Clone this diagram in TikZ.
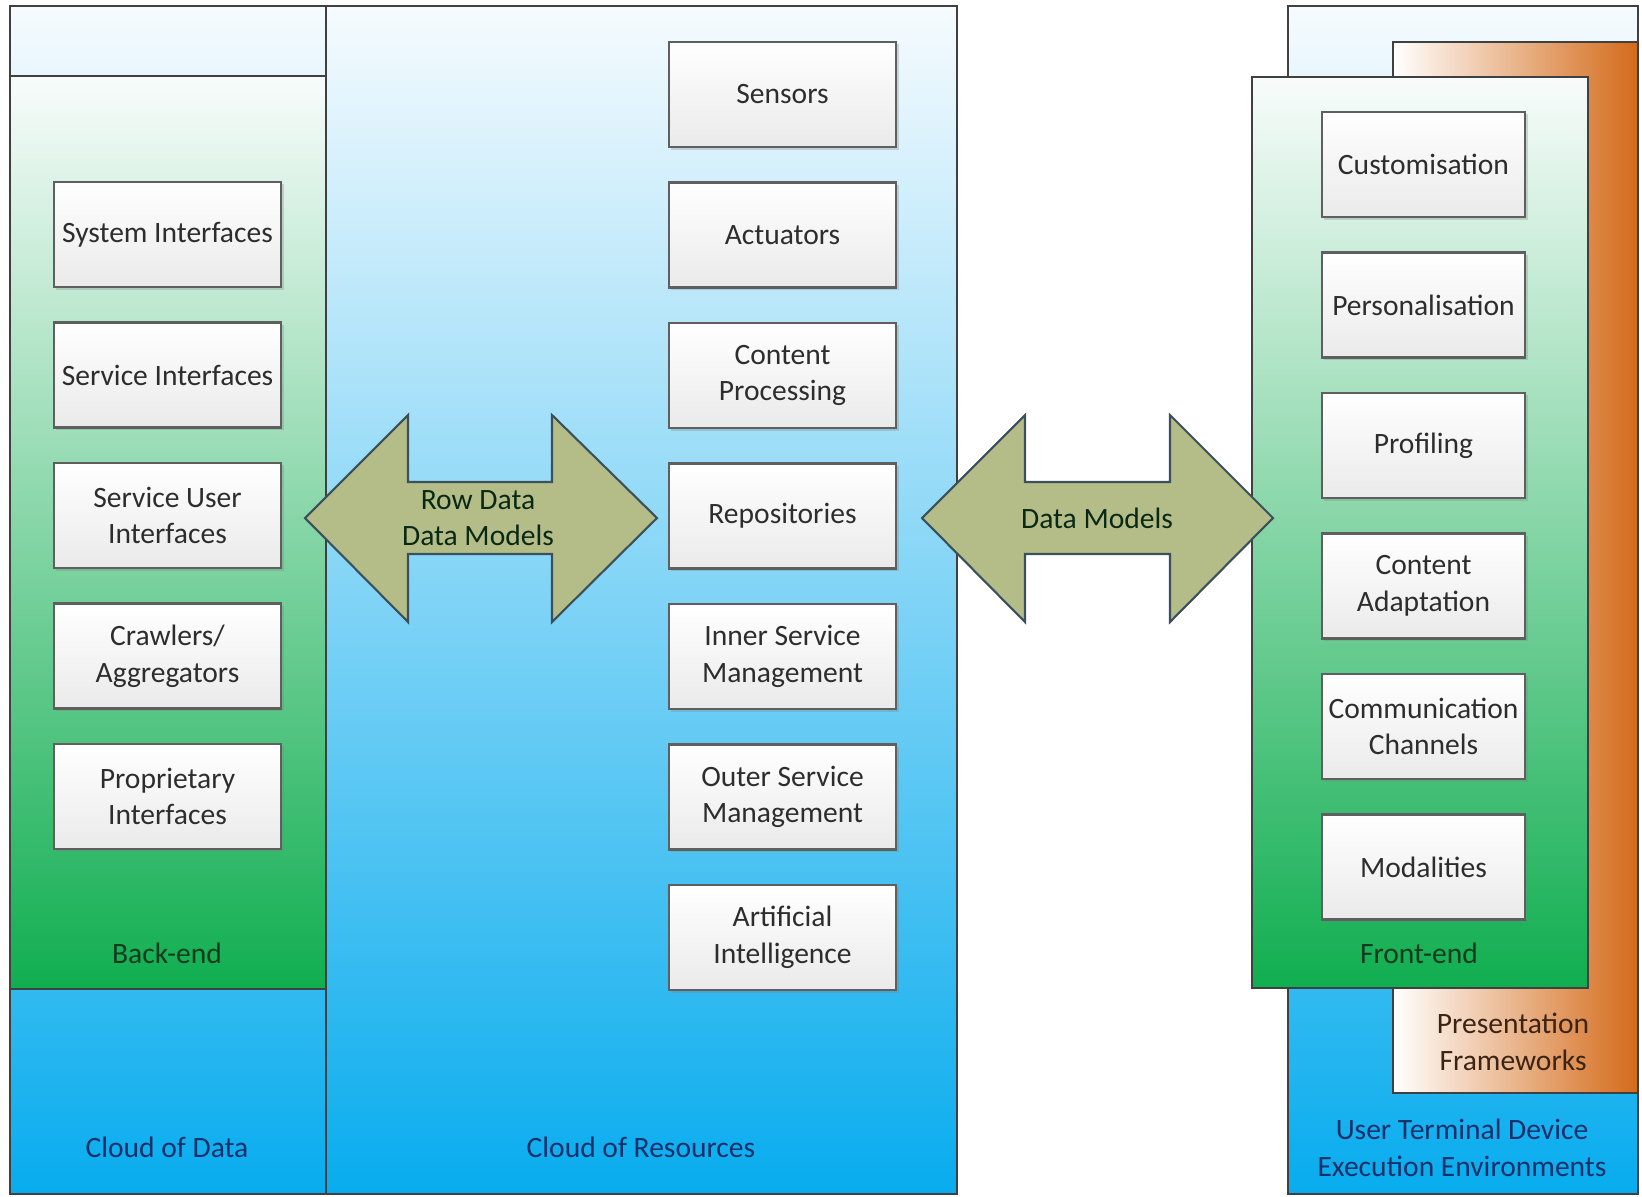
\documentclass[tikz,border=0pt]{standalone}
\usepackage{fontspec}
\setmainfont{Carlito}
\usetikzlibrary{shadows}
\definecolor{frame}{RGB}{64, 64, 64}
\definecolor{boxgray}{RGB}{234, 234, 234}
\definecolor{boxline}{RGB}{95, 95, 95}
\definecolor{textgray}{RGB}{45, 45, 45}
\definecolor{skyblue}{RGB}{8, 172, 238}
\definecolor{paleblue}{RGB}{246, 251, 254}
\definecolor{leaf}{RGB}{16, 174, 80}
\definecolor{paleleaf}{RGB}{248, 252, 251}
\definecolor{rust}{RGB}{212, 106, 26}
\definecolor{olive}{RGB}{180, 189, 136}
\definecolor{slate}{RGB}{60, 80, 92}
\definecolor{darkleaf}{RGB}{14, 59, 30}
\definecolor{navy}{RGB}{20, 48, 107}
\definecolor{umber}{RGB}{59, 36, 20}

\begin{document}
\begin{tikzpicture}[x=0.01cm, y=-0.01cm, line width=0.6pt,
  font=\fontsize{8.4}{10.4}\selectfont,
  block/.style={draw=boxline, top color=white, bottom color=boxgray,
    text=textgray, align=center, inner xsep=0.5pt,
    minimum width=2.27cm, minimum height=1.05cm,
    drop shadow={opacity=0.3, shadow xshift=0.7pt, shadow yshift=-0.7pt}},
  thinblock/.style={block, minimum width=2.03cm},
  title/.style={align=center}]
  \useasboundingbox (0, 0) rectangle (1642, 1196);

  % back-end side
  \draw[draw=frame, top color=paleblue, bottom color=skyblue] (10, 6) rectangle (326, 1194);
  \draw[draw=frame, top color=paleleaf, bottom color=leaf] (10, 76) rectangle (326, 989);
  \node[title, text=darkleaf] (backend) at (167, 953) {Back-end};
  \node[title, text=navy] (clouddata) at (167, 1147) {Cloud of Data};

  % resources in the middle
  \draw[draw=frame, top color=paleblue, bottom color=skyblue] (326, 6) rectangle (957, 1194);
  \node[title, text=navy] (cloudres) at (641, 1147) {Cloud of Resources};

  % front-end side
  \draw[draw=frame, top color=paleblue, bottom color=skyblue] (1288, 6) rectangle (1638, 1194);
  \draw[draw=frame, left color=white, right color=rust] (1393, 42) rectangle (1638, 1093);
  \draw[draw=frame, top color=paleleaf, bottom color=leaf] (1252, 77) rectangle (1588, 988);
  \node[title, text=darkleaf] (frontend) at (1419, 953) {Front-end};
  \node[title, text=umber] (present) at (1513, 1042) {Presentation\\Frameworks};
  \node[title, text=navy] (terminal) at (1462, 1148) {User Terminal Device\\Execution Environments};

  \foreach \name/\txt [count=\i from 0] in {sysif/System Interfaces,
      servif/Service Interfaces, userif/{Service User\\Interfaces},
      crawl/{Crawlers/\\Aggregators}, propif/{Proprietary\\Interfaces}}
    \node[block] (\name) at (167.5, 234.5 + 140.5*\i) {\txt};

  \foreach \name/\txt [count=\i from 0] in {sensors/Sensors, actuators/Actuators,
      content/{Content\\Processing}, repos/Repositories,
      inner/{Inner Service\\Management}, outer/{Outer Service\\Management},
      ai/{Artificial\\Intelligence}}
    \node[block] (\name) at (782.5, 94.5 + 140.5*\i) {\txt};

  \foreach \name/\txt [count=\i from 0] in {custom/Customisation,
      personal/Personalisation, profiling/Profiling,
      adapt/{Content\\Adaptation}, channels/{Communication\\Channels},
      modal/Modalities}
    \node[thinblock] (\name) at (1423.5, 164.5 + 140.5*\i) {\txt};

  % the two exchange arrows
  \draw[draw=slate, fill=olive] (305, 518) -- (408, 415) -- (408, 482) -- (552, 482)
    -- (552, 415) -- (657, 518) -- (552, 622) -- (552, 554) -- (408, 554)
    -- (408, 622) -- cycle;
  \node[title, text=darkleaf!70!black] (rowdata) at (478, 518) {Row Data\\Data Models};

  \draw[draw=slate, fill=olive] (922, 518) -- (1025, 415) -- (1025, 482) -- (1170, 482)
    -- (1170, 415) -- (1273, 518) -- (1170, 622) -- (1170, 554) -- (1025, 554)
    -- (1025, 622) -- cycle;
  \node[title, text=darkleaf!70!black] (models) at (1097, 518) {Data Models};
\end{tikzpicture}
\end{document}
